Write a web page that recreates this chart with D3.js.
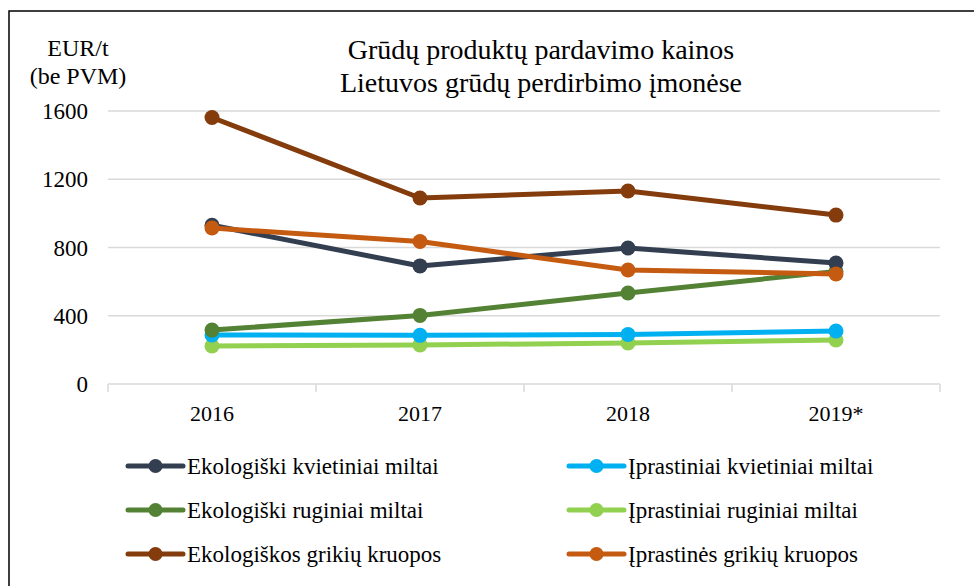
<!DOCTYPE html>
<html>
<head>
<meta charset="utf-8">
<script src="https://cdn.jsdelivr.net/npm/d3@7"></script>
<style>
  body { margin: 0; background: #fff; }
</style>
</head>
<body>
<svg id="chart" width="974" height="586"></svg>
<script>
const years = ['2016', '2017', '2018', '2019*'];

const ekoKvietiniai = [930, 692, 797, 709];
const iprKvietiniai = [287, 285, 290, 311];
const ekoRuginiai = [316, 402, 533, 660];
const iprRuginiai = [223, 229, 240, 258];
const ekoGrikiai = [1562, 1090, 1131, 990];
const iprGrikiai = [914, 835, 668, 645];

const seriesNames = [
  'Ekologiški kvietiniai miltai',
  'Įprastiniai kvietiniai miltai',
  'Ekologiški ruginiai miltai',
  'Įprastiniai ruginiai miltai',
  'Ekologiškos grikių kruopos',
  'Įprastinės grikių kruopos'
];
const seriesColors = ['#333f50', '#00b0f0', '#548235', '#92d050', '#843c0c', '#c55a11'];
const yTicks = [0, 400, 800, 1200, 1600];

const seriesValues = [ekoKvietiniai, iprKvietiniai, ekoRuginiai, iprRuginiai, ekoGrikiai, iprGrikiai];
const series = seriesNames.map((name, i) => ({ name, color: seriesColors[i], values: seriesValues[i] }));
// draw order: put the lower ones first like the original
const drawOrder = [3, 1, 2, 0, 5, 4];
const FONT = "'Liberation Serif', 'Times New Roman', 'DejaVu Serif', serif";

const svg = d3.select('#chart').attr('font-family', FONT);

svg.append('rect')
  .attr('x', 9).attr('y', 11)
  .attr('width', 1000).attr('height', 1000)
  .attr('fill', 'none').attr('stroke', '#000').attr('stroke-width', 1.5);

const x = d3.scaleBand().domain(years).range([108, 940]);
const y = d3.scaleLinear().domain([0, 1600]).range([384, 111]);

// gridlines
svg.append('g')
  .selectAll('line')
  .data(yTicks.filter(t => t > 0))
  .join('line')
  .attr('x1', 108).attr('x2', 940)
  .attr('y1', d => y(d)).attr('y2', d => y(d))
  .attr('stroke', '#d9d9d9').attr('stroke-width', 1.5);

// y axis labels
svg.append('g')
  .selectAll('text')
  .data(yTicks)
  .join('text')
  .attr('x', 88)
  .attr('y', d => y(d))
  .attr('dy', '0.35em')
  .attr('text-anchor', 'end')
  .attr('font-size', 23)
  .text(d => d);

// x axis
const xAxis = svg.append('g').attr('transform', 'translate(0,384)');
xAxis.append('line')
  .attr('x1', 108).attr('x2', 940)
  .attr('stroke', '#d9d9d9').attr('stroke-width', 1.5);
xAxis.selectAll('line.tick')
  .data(years.map(d => x(d)).concat([x.range()[1]]))
  .join('line')
  .attr('class', 'tick')
  .attr('x1', d => d).attr('x2', d => d)
  .attr('y1', 0).attr('y2', 8)
  .attr('stroke', '#d9d9d9').attr('stroke-width', 1.5);
xAxis.selectAll('text')
  .data(years)
  .join('text')
  .attr('x', d => x(d) + x.bandwidth() / 2)
  .attr('y', 37)
  .attr('text-anchor', 'middle')
  .attr('font-size', 22)
  .text(d => d);

// lines
const line = d3.line()
  .x((d, i) => x(years[i]) + x.bandwidth() / 2)
  .y(d => y(d));

const lines = svg.append('g');
drawOrder.forEach(i => {
  const s = series[i];
  const g = lines.append('g');
  g.append('path')
    .attr('d', line(s.values))
    .attr('fill', 'none')
    .attr('stroke', s.color)
    .attr('stroke-width', 5)
    .attr('stroke-linejoin', 'round');
  g.selectAll('circle')
    .data(s.values)
    .join('circle')
    .attr('cx', (d, j) => x(years[j]) + x.bandwidth() / 2)
    .attr('cy', d => y(d))
    .attr('r', 7.5)
    .attr('fill', s.color);
});

// titles
const title = svg.append('g')
  .attr('font-size', 28)
  .attr('text-anchor', 'middle');
title.append('text').attr('x', 541).attr('y', 59).text('Grūdų produktų pardavimo kainos');
title.append('text').attr('x', 541).attr('y', 92).text('Lietuvos grūdų perdirbimo įmonėse');

const unit = svg.append('g')
  .attr('font-size', 24)
  .attr('text-anchor', 'middle');
unit.append('text').attr('x', 78).attr('y', 56).text('EUR/t');
unit.append('text').attr('x', 78).attr('y', 84).text('(be PVM)');

// legend
const legend = svg.append('g');
series.forEach((s, i) => {
  const col = i % 2, row = Math.floor(i / 2);
  const lx = col === 0 ? 128 : 569;
  const ly = 466 + row * 44;
  const g = legend.append('g').attr('transform', `translate(${lx},${ly})`);
  g.append('line')
    .attr('x1', 0).attr('x2', 55)
    .attr('stroke', s.color).attr('stroke-width', 5)
    .attr('stroke-linecap', 'round');
  g.append('circle').attr('cx', 27.5).attr('r', 7).attr('fill', s.color);
  g.append('text')
    .attr('x', 59).attr('dy', '0.35em')
    .attr('font-size', 23)
    .text(s.name);
});
</script>
</body>
</html>
